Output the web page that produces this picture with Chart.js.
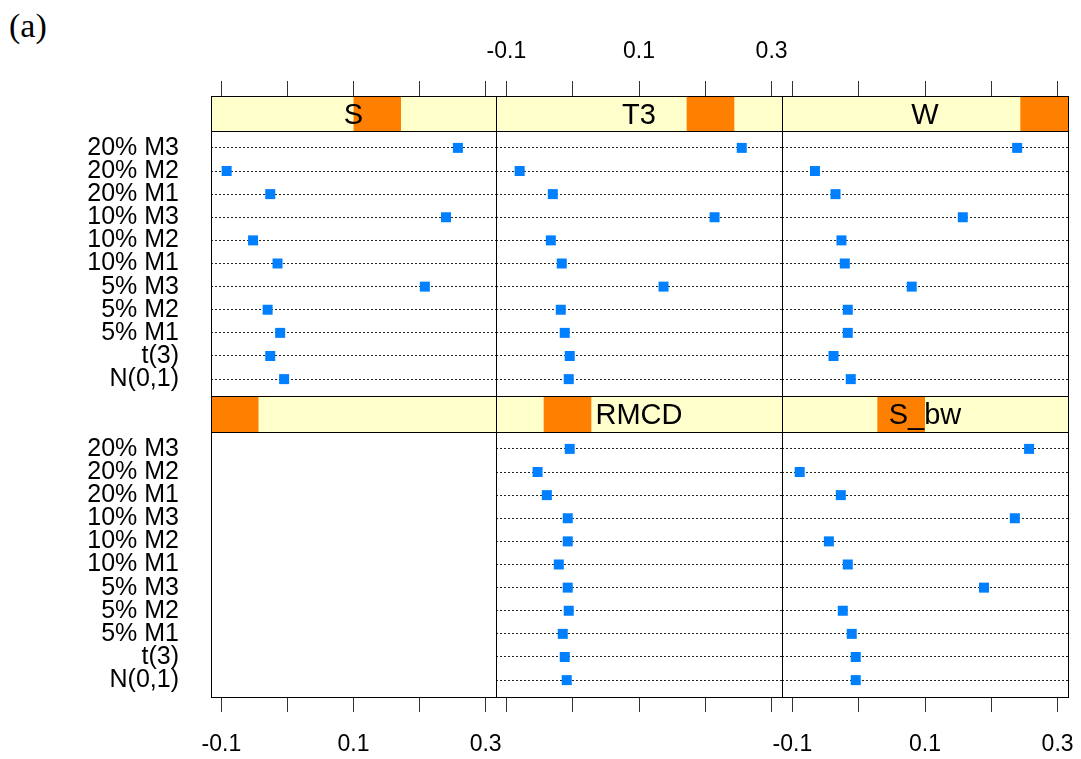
<!DOCTYPE html>
<html>
<head>
<meta charset="utf-8">
<script src="https://cdn.jsdelivr.net/npm/chart.js@4/dist/chart.umd.min.js"></script>
<style>
  html, body { margin: 0; padding: 0; background: #fff; }
  #wrap { position: relative; width: 1081px; height: 759px; overflow: hidden; }
  #wrap canvas { position: absolute; left: 0; top: 0; }
  #tag { position: absolute; left: 9px; top: 9px; font: 34px/34px "Liberation Serif", serif; color: #000; }
</style>
</head>
<body>
<div id="wrap">
  <div id="tag">(a)</div>
  <canvas id="c0" width="1081" height="759"></canvas>
  <canvas id="c1" width="1081" height="759"></canvas>
  <canvas id="c2" width="1081" height="759"></canvas>
  <canvas id="c3" width="1081" height="759"></canvas>
  <canvas id="c4" width="1081" height="759"></canvas>
  <canvas id="c5" width="1081" height="759"></canvas>
</div>
<script>
// categories, bottom to top
const categories = ["N(0,1)", "t(3)", "5% M1", "5% M2", "5% M3", "10% M1", "10% M2", "10% M3", "20% M1", "20% M2", "20% M3"];
const stripLevels = ["", "RMCD", "S_bw", "S", "T3", "W"];

// values, same order as categories
const valS    = [-0.005, -0.026, -0.011, -0.030, 0.208, -0.015, -0.052, 0.240, -0.026, -0.092, 0.258];
const valT3   = [-0.006, -0.0045, -0.012, -0.018, 0.137, -0.0165, -0.033, 0.214, -0.030, -0.080, 0.255];
const valW    = [-0.012, -0.038, -0.0165, -0.0165, 0.080, -0.021, -0.026, 0.157, -0.035, -0.066, 0.239];
const valRMCD = [-0.009, -0.012, -0.015, -0.006, -0.0075, -0.021, -0.0075, -0.0075, -0.039, -0.053, -0.0045];
const valSbw  = [-0.0045, -0.0045, -0.0105, -0.024, 0.189, -0.0165, -0.045, 0.2355, -0.027, -0.089, 0.257];

const xTickValues = [-0.1, 0, 0.1, 0.2, 0.3];
const xTickLabels = ["-0.1", "", "0.1", "", "0.3"];

// geometrie des panneaux (pixels)
const W = 1081, H = 759;
const colEdges = [211, 496, 782, 1068];
const rowTop = [96, 396];
const stripH = [35, 36];
const rowBottom = [396, 697];
const X_MIN = -0.1157, X_MAX = 0.3157;
const Y_MIN = 0.27, Y_PANEL_MAX = 11.73;

const FONT = '"Liberation Sans", Arial, sans-serif';

const panels = [
  { id: "c0", level: "S",    values: valS,    col: 0, row: 0, xLabels: false },
  { id: "c1", level: "T3",   values: valT3,   col: 1, row: 0, xLabels: true },
  { id: "c2", level: "W",    values: valW,    col: 2, row: 0, xLabels: false },
  { id: "c3", level: "",     values: null,    col: 0, row: 1, xLabels: true },
  { id: "c4", level: "RMCD", values: valRMCD, col: 1, row: 1, xLabels: false },
  { id: "c5", level: "S_bw", values: valSbw,  col: 2, row: 1, xLabels: true },
];

// bande (strip) + cadres
const stripPlugin = {
  id: "strip",
  afterDraw(chart, args, opts) {
    const ctx = chart.ctx;
    const a = chart.chartArea;
    const yS = Math.round(chart.scales.y.getPixelForValue(Y_PANEL_MAX));
    const w = (a.right - a.left) / stripLevels.length;
    const k = stripLevels.indexOf(opts.level);
    ctx.save();
    ctx.fillStyle = "#ffffcc";
    ctx.fillRect(a.left, a.top, a.right - a.left, yS - a.top);
    ctx.fillStyle = "#ff8000";
    ctx.fillRect(a.left + k * w, a.top, w, yS - a.top);
    if (opts.level) {
      ctx.fillStyle = "#000";
      ctx.font = "29px " + FONT;
      ctx.textAlign = "center";
      ctx.textBaseline = "alphabetic";
      ctx.fillText(opts.level, (a.left + a.right) / 2, (a.top + yS) / 2 + 29 * 0.716 / 2);
    }
    ctx.strokeStyle = "#000";
    ctx.lineWidth = 1;
    ctx.strokeRect(a.left + 0.5, a.top + 0.5, a.right - a.left, a.bottom - a.top);
    ctx.beginPath();
    ctx.moveTo(a.left, yS + 0.5);
    ctx.lineTo(a.right + 1, yS + 0.5);
    ctx.stroke();
    ctx.restore();
  }
};

panels.forEach(p => {
  const top = rowTop[p.row], bottom = rowBottom[p.row];
  const panelH = bottom - top - stripH[p.row];
  const yMax = Y_PANEL_MAX + stripH[p.row] * (Y_PANEL_MAX - Y_MIN) / panelH;
  const left = colEdges[p.col], right = colEdges[p.col + 1];
  const isTop = p.row === 0;
  const axisH = isTop ? top : 62;

  const data = p.values ? p.values.map((v, i) => ({ x: v, y: i + 1 })) : [];

  new Chart(document.getElementById(p.id), {
    type: "scatter",
    data: {
      datasets: [{
        data: data,
        pointStyle: "rect",
        pointRadius: 7.07,
        pointHoverRadius: 7.07,
        pointBorderWidth: 0,
        backgroundColor: "#0080ff",
        borderColor: "#0080ff"
      }]
    },
    options: {
      responsive: false,
      animation: false,
      events: [],
      layout: {
        padding: {
          left: p.col === 0 ? 0 : left,
          right: W - right,
          top: isTop ? 0 : top,
          bottom: isTop ? H - bottom : H - bottom - axisH
        }
      },
      plugins: {
        legend: { display: false },
        tooltip: { enabled: false },
        strip: { level: p.level }
      },
      scales: {
        x: {
          type: "linear",
          position: isTop ? "top" : "bottom",
          min: X_MIN,
          max: X_MAX,
          afterBuildTicks: s => { s.ticks = xTickValues.map(v => ({ value: v })); },
          afterFit: s => {
            s.height = axisH;
            s.paddingLeft = 0; s.paddingRight = 0; s.paddingTop = 0; s.paddingBottom = 0;
          },
          grid: { drawOnChartArea: false, drawTicks: true, tickLength: 15, color: "#333", lineWidth: 1 },
          border: { display: false },
          ticks: {
            autoSkip: false,
            maxRotation: 0,
            minRotation: 0,
            padding: isTop ? 16 : 19,
            color: "#000",
            font: { family: FONT, size: 23 },
            callback: (v, i) => p.xLabels ? xTickLabels[i] : ""
          }
        },
        y: {
          type: "linear",
          position: "left",
          min: Y_MIN,
          max: yMax,
          afterBuildTicks: s => { s.ticks = categories.map((c, i) => ({ value: i + 1 })); },
          afterFit: s => {
            s.width = p.col === 0 ? left : 0;
            s.paddingLeft = 0; s.paddingRight = 0; s.paddingTop = 0; s.paddingBottom = 0;
          },
          grid: { display: !!p.values, drawTicks: false, color: "#222", lineWidth: 1 },
          border: { display: false, dash: [2, 2] },
          ticks: {
            display: p.col === 0,
            autoSkip: false,
            padding: 32,
            color: "#000",
            font: { family: FONT, size: 25 },
            callback: (v, i) => categories[i]
          }
        }
      }
    },
    plugins: [stripPlugin]
  });
});
</script>
</body>
</html>
